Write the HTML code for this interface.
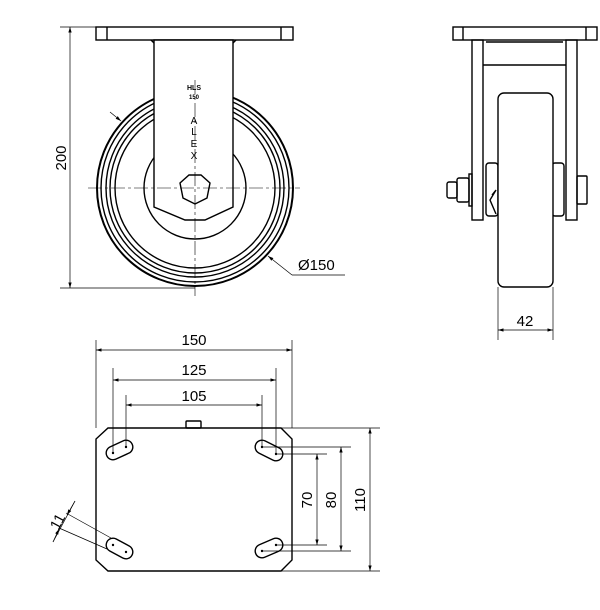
<!DOCTYPE html>
<html><head><style>html,body{margin:0;padding:0;background:#fff}svg{display:block}</style></head><body>
<svg width="600" height="610" viewBox="0 0 600 610" xmlns="http://www.w3.org/2000/svg" font-family="Liberation Sans, sans-serif" fill="none" stroke="#000">
<defs><marker id="a" viewBox="0 0 10 10" refX="10" refY="5" markerWidth="8" markerHeight="8" orient="auto-start-reverse"><path d="M0,2 L10,5 L0,8z" fill="#000" stroke="none"/></marker></defs>
<!-- FRONT VIEW -->
<g stroke-width="1.4">
<rect x="96" y="27" width="197" height="13"/>
<line x1="107" y1="27" x2="107" y2="40"/><line x1="281" y1="27" x2="281" y2="40"/>
<circle cx="195" cy="188" r="98" stroke-width="2"/>
<circle cx="195" cy="188" r="94"/>
<circle cx="195" cy="188" r="89"/>
<circle cx="195" cy="188" r="85"/>
<circle cx="195" cy="188" r="80"/>
<circle cx="195" cy="188" r="51"/>
<path d="M154,40 L154,207 L185,220 L205,220 L233,207 L233,40 Z" fill="#fff"/>
<line x1="151" y1="40" x2="154" y2="43"/><line x1="236" y1="40" x2="233" y2="43"/>
<polygon points="189,175 201,175 210,183 207,198 195,204 183,198 180,183" fill="#fff"/>
</g>
<g stroke-width="0.6" stroke-dasharray="14,3,3,3">
<line x1="88" y1="188" x2="300" y2="188"/><line x1="195" y1="80" x2="195" y2="296"/>
</g>
<text x="194" y="90" font-size="7" font-weight="bold" text-anchor="middle" fill="#000" stroke="none">HLS</text>
<text x="194" y="99" font-size="6" font-weight="bold" text-anchor="middle" fill="#000" stroke="none">150</text>
<g font-size="10" text-anchor="middle" fill="#000" stroke="none">
<text x="194" y="124">A</text><text x="194" y="135">L</text><text x="194" y="147">E</text><text x="194" y="159">X</text></g>
<g stroke-width="0.7">
<line x1="60" y1="27" x2="96" y2="27"/><line x1="60" y1="288" x2="195" y2="288"/>
<line x1="70" y1="27" x2="70" y2="288" marker-start="url(#a)" marker-end="url(#a)"/>
<line x1="110" y1="112" x2="121" y2="121" marker-end="url(#a)"/>
<line x1="292" y1="275" x2="268" y2="256" marker-end="url(#a)"/><line x1="292" y1="275" x2="345" y2="275"/>
</g>
<text x="0" y="0" font-size="15" fill="#000" stroke="none" transform="translate(66,158) rotate(-90)" text-anchor="middle">200</text>
<text x="298" y="270" font-size="15" fill="#000" stroke="none">Ø150</text>
<!-- SIDE VIEW -->
<g stroke-width="1.4">
<rect x="453" y="27" width="144" height="13"/>
<line x1="463" y1="27" x2="463" y2="40"/><line x1="586" y1="27" x2="586" y2="40"/>
<rect x="472" y="40" width="11" height="180"/><rect x="566" y="40" width="11" height="180"/>
<line x1="483" y1="65" x2="566" y2="65"/><line x1="486" y1="42" x2="563" y2="42"/>
<rect x="486" y="163" width="12" height="53" rx="3"/><rect x="552" y="163" width="12" height="53" rx="3"/>
<rect x="498" y="93" width="55" height="194" rx="6" fill="#fff"/>
<rect x="469" y="174" width="3" height="32"/>
<rect x="457" y="178" width="12" height="24" rx="2"/><rect x="447" y="182" width="10" height="16" rx="2"/>
<rect x="577" y="176" width="10" height="28" rx="1"/>
<path d="M492,195 L496,190 L490,200 L496,214"/>
</g>
<g stroke-width="0.7">
<line x1="498" y1="287" x2="498" y2="340"/><line x1="553" y1="287" x2="553" y2="340"/>
<line x1="498" y1="330" x2="553" y2="330" marker-start="url(#a)" marker-end="url(#a)"/>
</g>
<text x="525" y="326" font-size="15" text-anchor="middle" fill="#000" stroke="none">42</text>
<!-- BOTTOM VIEW -->
<g stroke-width="1.4">
<path d="M108,428 L281,428 L292,439 L292,560 L281,571 L108,571 L96,560 L96,439 Z"/>
<rect x="186" y="421" width="15" height="7" rx="1"/>
<g>
<line x1="113" y1="453" x2="126" y2="447" stroke-width="15" stroke-linecap="round"/>
<line x1="113" y1="453" x2="126" y2="447" stroke-width="12.2" stroke="#fff" stroke-linecap="round"/>
<line x1="262" y1="447" x2="276" y2="454" stroke-width="15" stroke-linecap="round"/>
<line x1="262" y1="447" x2="276" y2="454" stroke-width="12.2" stroke="#fff" stroke-linecap="round"/>
<line x1="113" y1="545" x2="126" y2="552" stroke-width="15" stroke-linecap="round"/>
<line x1="113" y1="545" x2="126" y2="552" stroke-width="12.2" stroke="#fff" stroke-linecap="round"/>
<line x1="262" y1="551" x2="276" y2="545" stroke-width="15" stroke-linecap="round"/>
<line x1="262" y1="551" x2="276" y2="545" stroke-width="12.2" stroke="#fff" stroke-linecap="round"/>
</g>
</g>
<g fill="#000" stroke="none">
<circle cx="113" cy="453" r="1.2"/><circle cx="126" cy="447" r="1.2"/>
<circle cx="262" cy="447" r="1.2"/><circle cx="276" cy="454" r="1.2"/>
<circle cx="113" cy="545" r="1.2"/><circle cx="126" cy="552" r="1.2"/>
<circle cx="262" cy="551" r="1.2"/><circle cx="276" cy="545" r="1.2"/>
</g>
<g stroke-width="0.7">
<line x1="96" y1="340" x2="96" y2="428"/><line x1="292" y1="340" x2="292" y2="428"/>
<line x1="96" y1="350" x2="292" y2="350" marker-start="url(#a)" marker-end="url(#a)"/>
<line x1="113" y1="368" x2="113" y2="453"/><line x1="276" y1="368" x2="276" y2="454"/>
<line x1="113" y1="380" x2="276" y2="380" marker-start="url(#a)" marker-end="url(#a)"/>
<line x1="126" y1="395" x2="126" y2="447"/><line x1="262" y1="395" x2="262" y2="447"/>
<line x1="126" y1="405" x2="262" y2="405" marker-start="url(#a)" marker-end="url(#a)"/>
<line x1="281" y1="428" x2="380" y2="428"/><line x1="200" y1="571" x2="380" y2="571"/>
<line x1="370" y1="428" x2="370" y2="571" marker-start="url(#a)" marker-end="url(#a)"/>
<line x1="262" y1="447" x2="351" y2="447"/><line x1="262" y1="551" x2="351" y2="551"/>
<line x1="341" y1="447" x2="341" y2="551" marker-start="url(#a)" marker-end="url(#a)"/>
<line x1="276" y1="454" x2="327" y2="454"/><line x1="276" y1="545" x2="327" y2="545"/>
<line x1="317" y1="454" x2="317" y2="545" marker-start="url(#a)" marker-end="url(#a)"/>
<line x1="111" y1="538" x2="66" y2="513"/><line x1="107" y1="549" x2="59" y2="528"/>
<line x1="75" y1="501" x2="53" y2="542"/>
<line x1="75" y1="501" x2="67" y2="515" marker-end="url(#a)"/><line x1="53" y1="542" x2="59" y2="529" marker-end="url(#a)"/>
</g>
<g font-size="15" fill="#000" stroke="none" text-anchor="middle">
<text x="194" y="345">150</text><text x="194" y="375">125</text><text x="194" y="401">105</text>
<text transform="translate(365,500) rotate(-90)">110</text>
<text transform="translate(336,500) rotate(-90)">80</text>
<text transform="translate(312,500) rotate(-90)">70</text>
<text transform="translate(62,524) rotate(-62)">11</text>
</g>
</svg>
</body></html>
